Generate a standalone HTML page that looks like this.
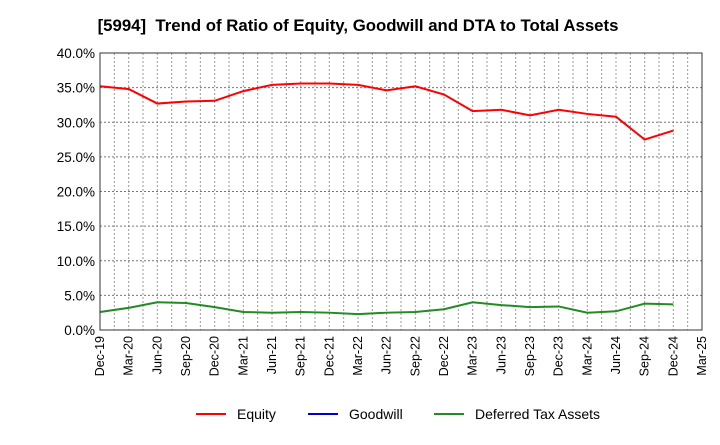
<!DOCTYPE html>
<html><head><meta charset="utf-8"><style>
body{margin:0;background:#fff;font-family:"Liberation Sans",sans-serif;}
svg text{font-family:"Liberation Sans",sans-serif;}
</style></head><body>
<svg id="c" width="720" height="440">
<text x="358" y="31" text-anchor="middle" font-size="16.8" font-weight="bold" xml:space="preserve">[5994]  Trend of Ratio of Equity, Goodwill and DTA to Total Assets</text>
<g id="grid"></g>
<g id="yax"></g>
<g id="xax"></g>
<g id="series"></g>
<rect x="100" y="53" width="602" height="277" fill="none" stroke="#333"/>
<g>
<g><line x1="196" y1="414" x2="226" y2="414" stroke="#f00" stroke-width="2"/><text x="237" y="419" font-size="14">Equity</text></g>
<g><line x1="308" y1="414" x2="338" y2="414" stroke="#00c" stroke-width="2"/><text x="349" y="419" font-size="14">Goodwill</text></g>
<g><line x1="434" y1="414" x2="464" y2="414" stroke="#228b22" stroke-width="2"/><text x="475" y="419" font-size="14">Deferred Tax Assets</text></g>
</g>
</svg>
<script>
const xLabels=["Dec-19","Mar-20","Jun-20","Sep-20","Dec-20","Mar-21","Jun-21","Sep-21","Dec-21","Mar-22","Jun-22","Sep-22","Dec-22","Mar-23","Jun-23","Sep-23","Dec-23","Mar-24","Jun-24","Sep-24","Dec-24","Mar-25"];
const yTicks=[0,5,10,15,20,25,30,35,40];
const equity=[35.2,34.8,32.7,33.0,33.1,34.5,35.4,35.6,35.6,35.4,34.6,35.2,34.0,31.6,31.8,31.0,31.8,31.2,30.8,27.5,28.8];
const goodwill=[];
const dta=[2.6,3.2,4.0,3.9,3.3,2.6,2.5,2.6,2.5,2.3,2.5,2.6,3.0,4.0,3.6,3.3,3.4,2.5,2.7,3.8,3.7];
const L=100,R=702,T=53,B=330,ns="http://www.w3.org/2000/svg";
const xs=i=>L+(R-L)*i/(xLabels.length-1);
const ys=v=>B-(B-T)*v/40;
function mk(t,a,p){const e=document.createElementNS(ns,t);for(const k in a)e.setAttribute(k,a[k]);p.appendChild(e);return e;}
const g=document.getElementById('grid'),ya=document.getElementById('yax'),xa=document.getElementById('xax'),s=document.getElementById('series');
for(let i=0;i<(xLabels.length-1)*2;i++){const x=L+(R-L)*i/((xLabels.length-1)*2);
const l=mk('line',{x1:x,x2:x,y1:T,y2:B,stroke:'#999','stroke-dasharray':'2,2'},g);
}
yTicks.forEach(v=>{const y=ys(v);
const l=mk('line',{x1:L,x2:R,y1:y,y2:y,stroke:'#777','stroke-dasharray':'2,2'},g);

const t=mk('text',{x:L-5,y:y+5,'text-anchor':'end','font-size':'13.5'},ya);t.textContent=v.toFixed(1)+'%';
});
xLabels.forEach((lb,i)=>{const x=xs(i);
const t=mk('text',{x:x+4,y:B+6,'text-anchor':'end','font-size':'12.5',transform:`rotate(-90 ${x+4} ${B+6})`},xa);t.textContent=lb;
});
function line(d,c,n){if(!d.length)return;const p=mk('polyline',{points:d.map((v,i)=>xs(i)+','+ys(v)).join(' '),fill:'none',stroke:c,'stroke-width':2},s);
}
line(equity,'#f00','equity-line');line(goodwill,'#00c','goodwill-line');line(dta,'#228b22','dta-line');
</script>
</body></html>
